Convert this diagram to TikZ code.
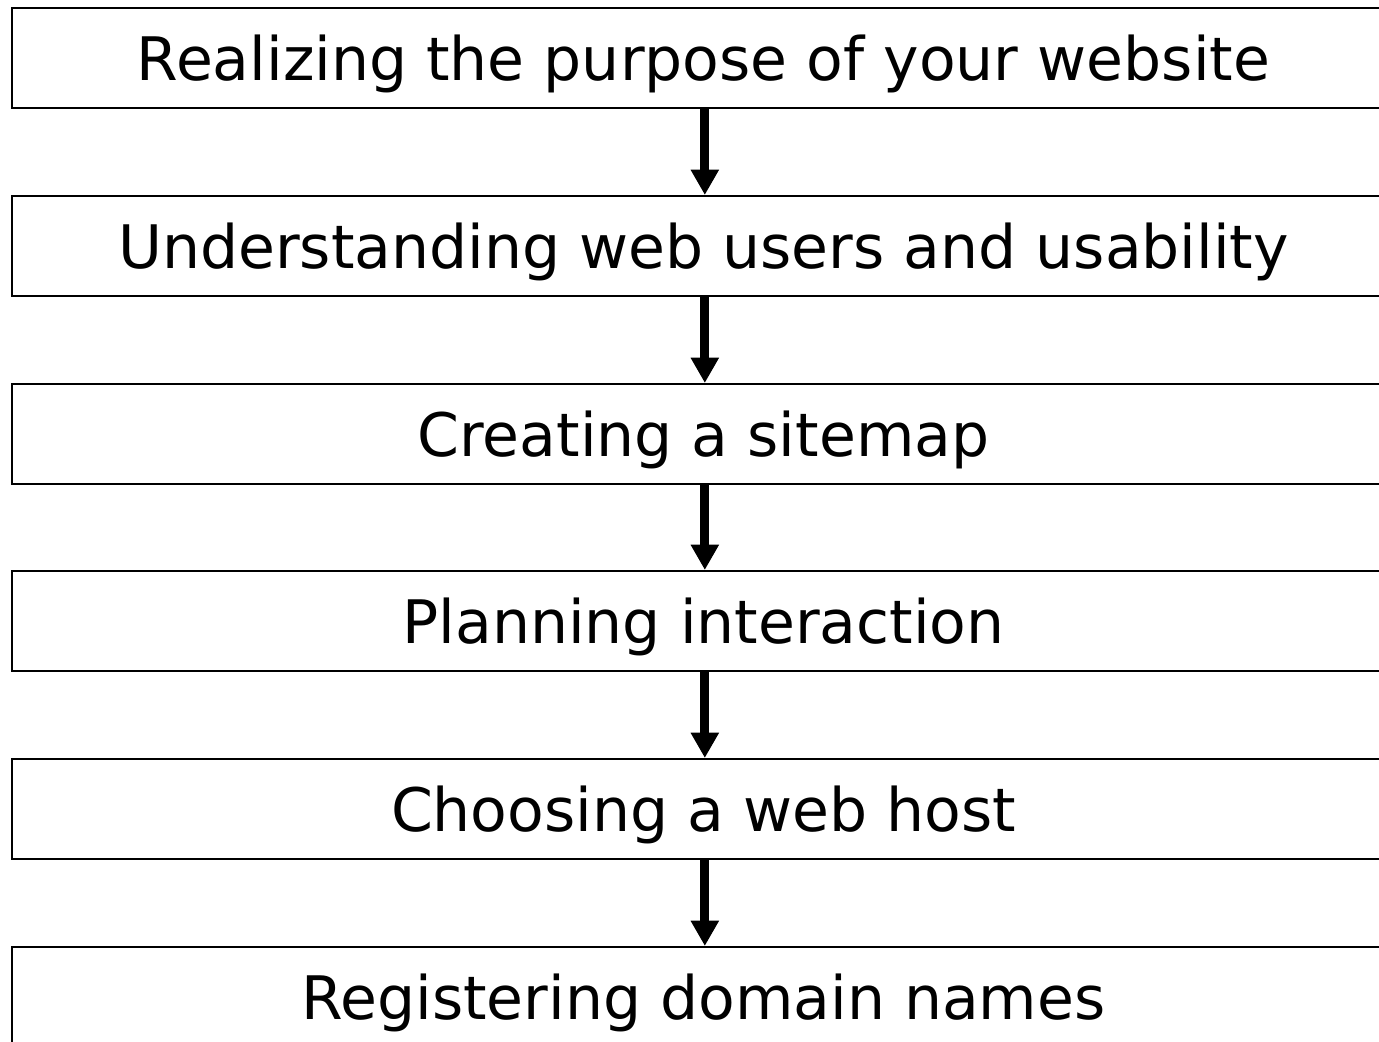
\documentclass[tikz,border=0pt]{standalone}
\usepackage{fontspec}
\setmainfont{DejaVu Sans}
\usetikzlibrary{arrows.meta}
\begin{document}
\begin{tikzpicture}[x=0.75pt,y=-0.75pt,
  stepbox/.style={draw=black,line width=1.5pt,fill=white,
    minimum width=1037pt,minimum height=75pt,inner sep=0pt,
    text height=33pt,text depth=0pt,
    font=\fontsize{45pt}{54pt}\selectfont},
  flow/.style={line width=6.8pt,-{Triangle[length=19pt,width=20pt]}}]
\useasboundingbox (0,0) rectangle (1379,1042);
\clip (0,0) rectangle (1379,1042);
\node[stepbox] (s1) at (703.5,58)   {Realizing the purpose of your website};
\node[stepbox] (s2) at (703.5,246)  {Understanding web users and usability};
\node[stepbox] (s3) at (703.5,434)  {Creating a sitemap};
\node[stepbox] (s4) at (703.5,621)  {Planning interaction};
\node[stepbox] (s5) at (703.5,809)  {Choosing a web host};
\node[stepbox] (s6) at (703.5,997)  {Registering domain names};
\foreach \a/\b in {s1/s2,s2/s3,s3/s4,s4/s5,s5/s6}
  \draw[flow] ([xshift=1pt]\a.south) -- ([xshift=1pt]\b.north);
\end{tikzpicture}
\end{document}
